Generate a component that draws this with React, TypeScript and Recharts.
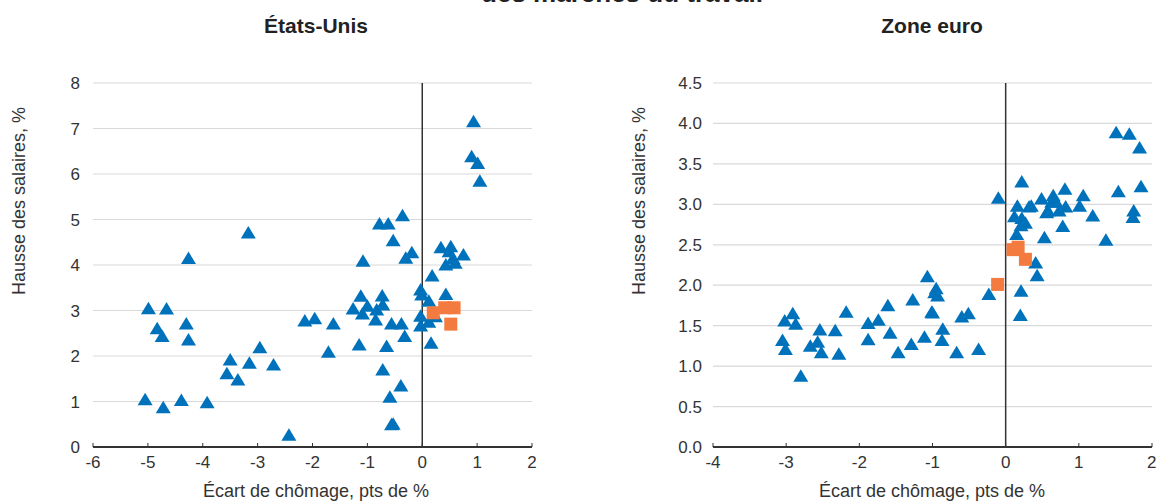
import React from 'react';
import { ScatterChart, Scatter, XAxis, YAxis, CartesianGrid, ReferenceLine } from 'recharts';

// ---- États-Unis ----
const usTriX = [0.935, 0.9, 1.01, 1.05, -0.36, -0.78, -0.62, -0.53, -3.17, -4.26, -0.19, -0.3, -1.08, 0.34, 0.52, 0.49, 0.75, 0.43, 0.6, 0.56, 0.18, -0.03, -0.01, 0.12, 0.43, -0.73, -0.72, -1.12, -1.0, -1.26, -1.09, -0.83, -0.85, -0.56, -0.38, -0.32, -0.03, -0.03, 0.12, 0.24, 0.16, -0.65, -1.15, -1.71, -1.62, -2.14, -1.96, -0.72, -0.39, -0.59, -0.53, -0.56, -2.43, -2.96, -2.71, -3.15, -3.5, -3.56, -3.36, -4.99, -4.66, -4.83, -4.74, -4.3, -4.26, -5.05, -4.72, -4.39, -3.92];
const usTriY = [7.14, 6.37, 6.22, 5.83, 5.07, 4.89, 4.89, 4.52, 4.69, 4.13, 4.26, 4.14, 4.07, 4.37, 4.39, 4.28, 4.21, 3.99, 4.03, 4.13, 3.75, 3.44, 3.33, 3.19, 3.34, 3.31, 3.11, 3.3, 3.08, 3.02, 2.91, 3.0, 2.78, 2.69, 2.69, 2.42, 2.86, 2.65, 2.73, 2.85, 2.27, 2.2, 2.23, 2.07, 2.69, 2.76, 2.81, 1.68, 1.33, 1.08, 0.49, 0.48, 0.25, 2.17, 1.79, 1.83, 1.9, 1.6, 1.46, 3.03, 3.02, 2.59, 2.42, 2.69, 2.34, 1.03, 0.85, 1.01, 0.96];
const usSqX = [0.2, 0.41, 0.58, 0.52];
const usSqY = [2.95, 3.06, 3.06, 2.7];
const usXTicks = [-6, -5, -4, -3, -2, -1, 0, 1, 2];
const usYTicks = [0, 1, 2, 3, 4, 5, 6, 7, 8];

// ---- Zone euro ----
const euTriX = [1.51, 1.69, 1.83, 1.85, 1.54, 1.75, 1.74, 1.37, 1.19, 1.06, 1.01, 0.81, 0.82, 0.78, 0.73, 0.69, 0.65, 0.63, 0.58, 0.56, 0.49, 0.53, 0.35, 0.32, 0.22, 0.16, 0.12, 0.22, 0.21, 0.27, 0.15, -0.1, 0.41, 0.43, 0.21, 0.2, -0.23, -0.51, -0.6, -0.37, -0.67, -1.07, -0.95, -0.97, -0.93, -1.01, -1.0, -0.86, -0.87, -1.11, -1.27, -1.29, -1.47, -1.61, -1.58, -1.74, -1.88, -1.88, -2.18, -2.33, -2.28, -2.54, -2.57, -2.67, -2.52, -2.91, -2.87, -3.02, -3.05, -3.01, -2.8];
const euTriY = [3.88, 3.86, 3.69, 3.21, 3.15, 2.91, 2.83, 2.55, 2.85, 3.1, 2.97, 3.18, 2.96, 2.72, 2.91, 3.02, 3.1, 3.02, 2.91, 2.89, 3.06, 2.58, 2.97, 2.96, 3.27, 2.97, 2.84, 2.82, 2.73, 2.76, 2.62, 3.07, 2.27, 2.11, 1.92, 1.62, 1.88, 1.64, 1.6, 1.2, 1.16, 2.1, 1.95, 1.9, 1.86, 1.66, 1.65, 1.45, 1.31, 1.35, 1.81, 1.26, 1.16, 1.74, 1.4, 1.56, 1.52, 1.32, 1.66, 1.43, 1.14, 1.44, 1.29, 1.24, 1.16, 1.64, 1.51, 1.55, 1.31, 1.2, 0.87];
const euSqX = [0.1, 0.17, 0.27, -0.11];
const euSqY = [2.44, 2.47, 2.32, 2.01];
const euXTicks = [-4, -3, -2, -1, 0, 1, 2];
const euYTicks = [0, 0.5, 1, 1.5, 2, 2.5, 3, 3.5, 4, 4.5];

const BLUE = '#0072BB';
const ORANGE = '#F47B3F';
const FONT = '"Liberation Sans", Arial, Helvetica, sans-serif';
const TXT = '#333333';

const zip = (xs: number[], ys: number[]) => xs.map((x, i) => ({ x, y: ys[i] }));

const Triangle = (p: any) => {
  const { cx, cy } = p;
  if (cx == null || cy == null) return null;
  return <path d={`M${cx},${cy - 7.5} L${cx + 7.5},${cy + 5} L${cx - 7.5},${cy + 5} Z`} fill={BLUE} />;
};
const Square = (p: any) => {
  const { cx, cy } = p;
  if (cx == null || cy == null) return null;
  return <rect x={cx - 6.5} y={cy - 6.5} width={13} height={13} fill={ORANGE} />;
};

type PanelProps = {
  left: number;
  width: number;
  margin: { top: number; right: number; bottom: number; left: number };
  tri: { x: number; y: number }[];
  sq: { x: number; y: number }[];
  xTicks: number[];
  yTicks: number[];
  yFmt: (v: number) => string;
  yTickMargin: number;
};

const Panel = ({ left, width, margin, tri, sq, xTicks, yTicks, yFmt, yTickMargin }: PanelProps) => (
  <div style={{ position: 'absolute', left, top: 0 }}>
    <ScatterChart width={width} height={502} margin={margin}>
      <CartesianGrid horizontal vertical={false} stroke="#d9d9d9" strokeWidth={1.2} />
      <XAxis
        type="number"
        dataKey="x"
        domain={[xTicks[0], xTicks[xTicks.length - 1]]}
        ticks={xTicks}
        height={30}
        axisLine={{ stroke: '#333', strokeWidth: 2 }}
        tickLine={{ stroke: '#333', strokeWidth: 1 }}
        tickSize={-4}
        tickMargin={13}
        tick={{ fill: TXT, fontSize: 17, fontFamily: FONT }}
        allowDataOverflow
      />
      <YAxis
        type="number"
        dataKey="y"
        domain={[yTicks[0], yTicks[yTicks.length - 1]]}
        ticks={yTicks}
        width={60}
        axisLine={false}
        tickLine={false}
        tickSize={0}
        tickMargin={yTickMargin}
        tickFormatter={yFmt}
        tick={{ fill: TXT, fontSize: 17, fontFamily: FONT }}
        allowDataOverflow
      />
      <ReferenceLine x={0} stroke="#333" strokeWidth={1.5} />
      <Scatter data={tri} shape={Triangle} isAnimationActive={false} />
      <Scatter data={sq} shape={Square} isAnimationActive={false} />
    </ScatterChart>
  </div>
);

const absText = (style: React.CSSProperties, text: string) => (
  <div style={{ position: 'absolute', whiteSpace: 'nowrap', fontFamily: FONT, color: TXT, ...style }}>{text}</div>
);

export default function App() {
  return (
    <div style={{ position: 'absolute', left: 0, top: 0, width: 1156, height: 502, overflow: 'hidden', background: '#fff' }}>
      <Panel
        left={0}
        width={560}
        margin={{ top: 83, right: 28, bottom: 25, left: 33 }}
        tri={zip(usTriX, usTriY)}
        sq={zip(usSqX, usSqY)}
        xTicks={usXTicks}
        yTicks={usYTicks}
        yFmt={(v) => String(v)}
        yTickMargin={13}
      />
      <Panel
        left={600}
        width={556}
        margin={{ top: 83, right: 4, bottom: 25, left: 53 }}
        tri={zip(euTriX, euTriY)}
        sq={zip(euSqX, euSqY)}
        xTicks={euXTicks}
        yTicks={euYTicks}
        yFmt={(v) => v.toFixed(1)}
        yTickMargin={11}
      />
      {absText({ left: 622, top: -22, transform: 'translateX(-50%)', fontSize: 26, fontWeight: 700, color: '#222' }, 'des marchés du travail')}
      {absText({ left: 316, top: 14, transform: 'translateX(-50%)', fontSize: 21, fontWeight: 700, color: '#222' }, 'États-Unis')}
      {absText({ left: 932, top: 14, transform: 'translateX(-50%)', fontSize: 21, fontWeight: 700, color: '#222' }, 'Zone euro')}
      {absText({ left: 316, top: 481, transform: 'translateX(-50%)', fontSize: 18 }, 'Écart de chômage, pts de %')}
      {absText({ left: 932, top: 481, transform: 'translateX(-50%)', fontSize: 18 }, 'Écart de chômage, pts de %')}
      {absText({ left: 19, top: 201, transform: 'translate(-50%, -50%) rotate(-90deg)', fontSize: 18 }, 'Hausse des salaires, %')}
      {absText({ left: 639, top: 201, transform: 'translate(-50%, -50%) rotate(-90deg)', fontSize: 18 }, 'Hausse des salaires, %')}
    </div>
  );
}
